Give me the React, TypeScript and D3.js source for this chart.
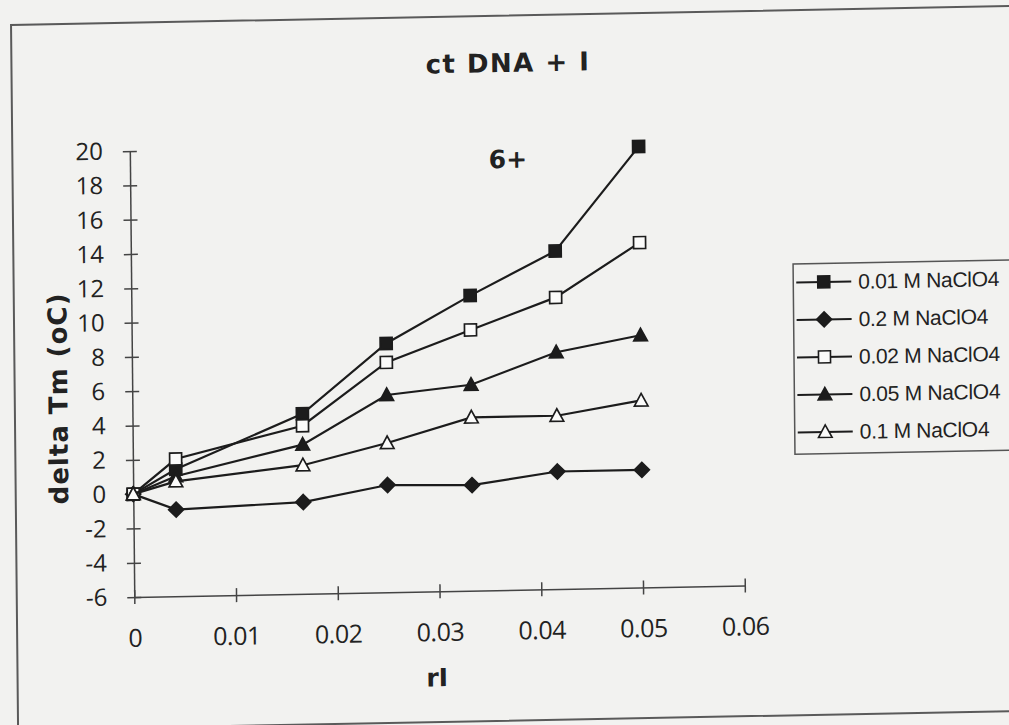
import React, { useEffect, useRef } from 'react';
import * as d3 from 'd3';

// r values (x axis)
const rValues = [0, 0.0042, 0.0167, 0.025, 0.0333, 0.0417, 0.05];

// delta Tm (oC) per salt concentration
const tm001 = [0, 1.4, 4.5, 8.5, 11.2, 13.7, 19.7];
const tm02 = [0, -0.95, -0.65, 0.25, 0.15, 0.85, 0.85];
const tm002 = [0, 2.0, 3.8, 7.4, 9.2, 11.0, 14.1];
const tm005 = [0, 1.0, 2.7, 5.5, 6.0, 7.8, 8.7];
const tm01 = [0, 0.7, 1.5, 2.7, 4.1, 4.1, 4.9];

const seriesNames = ['0.01 M NaClO4', '0.2 M NaClO4', '0.02 M NaClO4', '0.05 M NaClO4', '0.1 M NaClO4'];
const seriesValues = [tm001, tm02, tm002, tm005, tm01];
const seriesMarkers = ['square', 'diamond', 'squareOpen', 'triangle', 'triangleOpen'];

const xTicks = [0, 0.01, 0.02, 0.03, 0.04, 0.05, 0.06];
const yTicks = [-6, -4, -2, 0, 2, 4, 6, 8, 10, 12, 14, 16, 18, 20];

const W = 1009;
const H = 725;
const INK = '#1c1c1c';
const PAPER = '#f2f2f0';

// marker outline around (0,0)
const markerPath = (shape: string) => {
  const p = d3.path();
  if (shape.startsWith('square')) {
    p.rect(-6, -6, 12, 12);
  } else if (shape === 'diamond') {
    p.moveTo(0, -7.5); p.lineTo(7.5, 0); p.lineTo(0, 7.5); p.lineTo(-7.5, 0); p.closePath();
  } else {
    p.moveTo(0, -7); p.lineTo(6.8, 5.5); p.lineTo(-6.8, 5.5); p.closePath();
  }
  return p.toString();
};

const isOpen = (shape: string) => shape.endsWith('Open');

const App: React.FC = () => {
  const svgRef = useRef<SVGSVGElement>(null);

  useEffect(() => {
    if (!svgRef.current) return;
    const svg = d3.select(svgRef.current);
    svg.selectAll('*').remove();

    svg.append('rect').attr('width', W).attr('height', H).attr('fill', PAPER);

    // the scanned page is slightly skewed
    const cx = W / 2, cy = H / 2;
    const g = svg.append('g')
      .attr('transform', `translate(${cx},${cy}) matrix(1,-0.019,0.01,1,0,0) translate(${-cx},${-cy})`);

    // chart frame
    g.append('rect')
      .attr('x', 14.5).attr('y', 15.7)
      .attr('width', 1010).attr('height', 705)
      .attr('fill', 'none').attr('stroke', '#5a5a5a').attr('stroke-width', 2);

    const x = d3.scaleLinear().domain([0, 0.06]).range([132, 742.5]);
    const y = d3.scaleLinear().domain([-6, 20]).range([590, 144]);

    // Y axis
    const yAxis = g.append('g')
      .attr('transform', `translate(${x(0)},0)`)
      .call(d3.axisLeft(y).tickValues(yTicks).tickSize(7).tickSizeOuter(0).tickPadding(20).tickFormat(d => String(d)));
    yAxis.select('.domain').attr('stroke', '#444').attr('stroke-width', 1.5);
    yAxis.selectAll('.tick line').attr('x1', -7).attr('x2', 7).attr('stroke', '#444').attr('stroke-width', 1.5);
    yAxis.selectAll('.tick text')
      .attr('fill', '#222').attr('font-family', '"Open Sans", sans-serif').attr('font-size', 24);

    // X axis (crosses at -6)
    const xAxis = g.append('g')
      .attr('transform', `translate(0,${y(-6)})`)
      .call(d3.axisBottom(x).tickValues(xTicks).tickSize(7).tickSizeOuter(0).tickPadding(25).tickFormat(d => String(d)));
    xAxis.select('.domain').attr('stroke', '#444').attr('stroke-width', 1.5);
    xAxis.selectAll('.tick line').attr('y1', -7).attr('y2', 7).attr('stroke', '#444').attr('stroke-width', 1.5);
    xAxis.selectAll('.tick text')
      .attr('fill', '#222').attr('font-family', '"Open Sans", sans-serif').attr('font-size', 25)
      .attr('letter-spacing', -0.5);

    // Titles
    const bold = (t: d3.Selection<SVGTextElement, unknown, null, undefined>) =>
      t.attr('fill', '#222').attr('font-family', '"DejaVu Sans", sans-serif').attr('font-weight', 'bold').attr('text-anchor', 'middle');

    bold(g.append('text').attr('x', 511).attr('y', 72).attr('font-size', 26).attr('letter-spacing', 1.5).text('ct DNA + I'));
    bold(g.append('text').attr('x', 510).attr('y', 168).attr('font-size', 25).text('6+'));
    bold(g.append('text').attr('x', 434).attr('y', 685).attr('font-size', 25).text('rI'));
    bold(g.append('text')
      .attr('transform', 'translate(67,390) rotate(-90)')
      .attr('font-size', 26).attr('letter-spacing', 1).text('delta Tm (oC)'));

    // Series
    const line = d3.line<number>()
      .x((_, i) => x(rValues[i]))
      .y(d => y(d));

    seriesValues.forEach((vals, si) => {
      const shape = seriesMarkers[si];
      g.append('path')
        .datum(vals)
        .attr('fill', 'none').attr('stroke', INK).attr('stroke-width', 2.2)
        .attr('d', line);
      g.append('g').selectAll('path')
        .data(vals)
        .join('path')
        .attr('transform', (d, i) => `translate(${x(rValues[i])},${y(d)})`)
        .attr('d', markerPath(shape))
        .attr('fill', isOpen(shape) ? '#fbfbfa' : INK)
        .attr('stroke', INK).attr('stroke-width', 1.7);
    });

    // Legend
    const legend = g.append('g');
    legend.append('rect')
      .attr('x', 794).attr('y', 269.5).attr('width', 235).attr('height', 190.3)
      .attr('fill', PAPER).attr('stroke', '#555').attr('stroke-width', 1.5);

    const rowY = d3.scaleLinear().domain([0, 4]).range([288, 438]);
    seriesNames.forEach((name, i) => {
      const ry = rowY(i);
      const shape = seriesMarkers[i];
      legend.append('line')
        .attr('x1', 797).attr('x2', 852).attr('y1', ry).attr('y2', ry)
        .attr('stroke', INK).attr('stroke-width', 2);
      legend.append('path')
        .attr('transform', `translate(824.5,${ry})`)
        .attr('d', markerPath(shape))
        .attr('fill', isOpen(shape) ? '#fbfbfa' : INK)
        .attr('stroke', INK).attr('stroke-width', 1.6);
      legend.append('text')
        .attr('x', 859).attr('y', ry + 7.5)
        .attr('fill', '#222').attr('font-family', '"Liberation Sans", Arial, sans-serif').attr('font-size', 21)
        .attr('letter-spacing', -0.3)
        .text(name);
    });
  }, []);

  return (
    <div style={{ position: 'fixed', left: 0, top: 0, width: W, height: H, overflow: 'hidden', background: PAPER }}>
      <svg ref={svgRef} width={W} height={H} style={{ display: 'block' }}></svg>
    </div>
  );
};

export default App;
